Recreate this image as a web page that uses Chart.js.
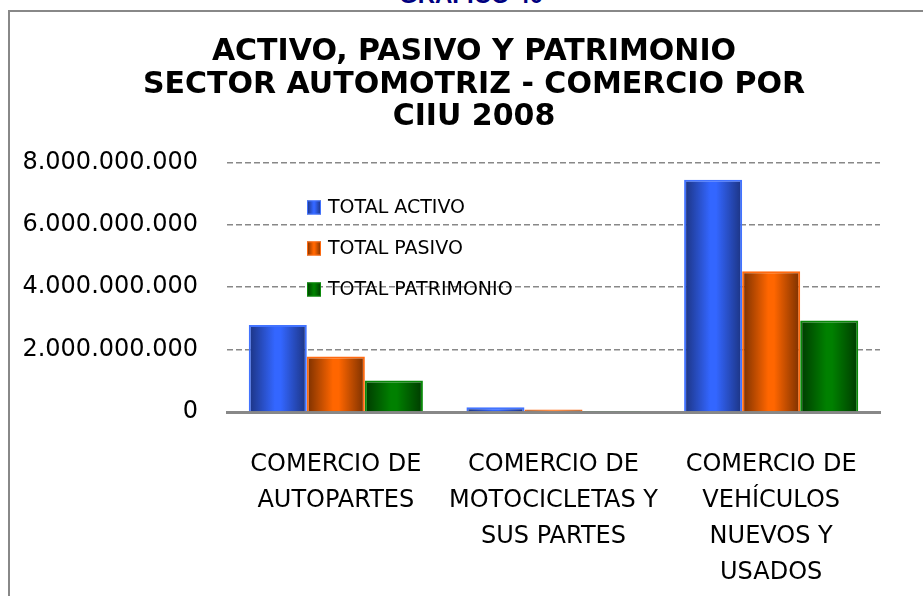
<!DOCTYPE html>
<html>
<head>
<meta charset="utf-8">
<script src="https://cdn.jsdelivr.net/npm/chart.js@4.4.1/dist/chart.umd.min.js"></script>
<style>
html, body { margin: 0; padding: 0; width: 923px; height: 596px; overflow: hidden; background: #fff; }
#sup { position: absolute; left: 0; top: -17px; width: 942px; text-align: center; font: bold 24px "Liberation Sans", Arial, sans-serif; line-height: 24px; color: #000080; }
#box { position: absolute; left: 8px; top: 10px; width: 1000px; height: 700px; border: 2px solid #888; background: #fff; }
#wrap { position: absolute; left: 9px; top: 11px; width: 930px; height: 585px; }
</style>
</head>
<body>
<div id="sup">GRAFICO 40</div>
<div id="box"></div>
<div id="wrap"><canvas id="chart" width="930" height="585"></canvas></div>
<script>
// data
const categories = [
    ["COMERCIO DE", "AUTOPARTES"],
    ["COMERCIO DE", "MOTOCICLETAS Y", "SUS PARTES"],
    ["COMERCIO DE", "VEHÍCULOS", "NUEVOS Y", "USADOS"]
];
const seriesNames = ["TOTAL ACTIVO", "TOTAL PASIVO", "TOTAL PATRIMONIO"];
const totalActivo = [2790000000, 150000000, 7450000000];
const totalPasivo = [1780000000, 80000000, 4510000000];
const totalPatrimonio = [1010000000, 30000000, 2930000000];
const yTicks = [0, 2000000000, 4000000000, 6000000000, 8000000000];
const titleLines = ["ACTIVO, PASIVO Y PATRIMONIO", "SECTOR AUTOMOTRIZ - COMERCIO POR", "CIIU 2008"];

const fmt = v => String(v).replace(/\B(?=(\d{3})+(?!\d))/g, ".");

// edge / middle colours for the cylinder-like shading
const shades = [
    { edge: "#1c3380", mid: "#3366ff", border: "#4273ff" },
    { edge: "#7a3000", mid: "#ff6600", border: "#ff6a10" },
    { edge: "#003a00", mid: "#008000", border: "#0a8a0a" }
];

function barGradient(ctx, l, r, s) {
    const g = ctx.createLinearGradient(l, 0, r, 0);
    g.addColorStop(0, s.edge);
    g.addColorStop(0.45, s.mid);
    g.addColorStop(0.55, s.mid);
    g.addColorStop(1, s.edge);
    return g;
}

// give each bar its own horizontal gradient
const shadePlugin = {
    id: "shade",
    beforeDatasetsDraw(chart) {
        const ctx = chart.ctx;
        chart.data.datasets.forEach((ds, i) => {
            chart.getDatasetMeta(i).data.forEach(bar => {
                const g = barGradient(ctx, bar.x - bar.width / 2, bar.x + bar.width / 2, shades[i]);
                bar.options = Object.assign({}, bar.options, { backgroundColor: g });
            });
        });
    }
};

// legend sits inside the plot, stacked
const legendPlugin = {
    id: "insideLegend",
    afterDatasetsDraw(chart) {
        const { ctx, chartArea } = chart;
        ctx.save();
        ctx.font = '19px "DejaVu Sans"';
        ctx.textBaseline = "middle";
        chart.data.datasets.forEach((ds, i) => {
            const x = chartArea.left + 80;
            const y = chartArea.top + 45 + i * 41;
            ctx.fillStyle = barGradient(ctx, x, x + 14, shades[i]);
            ctx.fillRect(x, y - 7, 14, 14);
            ctx.strokeStyle = shades[i].border;
            ctx.lineWidth = 1;
            ctx.strokeRect(x + 0.5, y - 6.5, 13, 13);
            ctx.fillStyle = "#000";
            ctx.fillText(ds.label, x + 21, y + 1);
        });
        ctx.restore();
    }
};

const values = [totalActivo, totalPasivo, totalPatrimonio];

new Chart(document.getElementById("chart"), {
    type: "bar",
    data: {
        labels: categories,
        datasets: values.map((v, i) => ({
            label: seriesNames[i],
            data: v,
            backgroundColor: shades[i].mid,
            borderColor: shades[i].border,
            borderWidth: 2,
            categoryPercentage: 0.8,
            barPercentage: 1
        }))
    },
    options: {
        responsive: false,
        animation: false,
        layout: { padding: 0 },
        plugins: {
            legend: { display: false },
            tooltip: { enabled: false },
            title: {
                display: true,
                text: titleLines,
                color: "#000",
                font: { family: "DejaVu Sans", weight: "bold", size: 30, lineHeight: 1.083 },
                padding: { top: 25, bottom: 29 }
            }
        },
        scales: {
            x: {
                grid: { display: false, drawTicks: false },
                border: { display: true, color: "#888", width: 3 },
                ticks: {
                    color: "#000",
                    padding: 35,
                    maxRotation: 0,
                    autoSkip: false,
                    font: { family: "DejaVu Sans", size: 24, lineHeight: 1.5 }
                },
                afterFit: s => { s.height = 184; }
            },
            y: {
                min: 0,
                max: 8000000000,
                afterBuildTicks: s => { s.ticks = yTicks.map(v => ({ value: v })); },
                grid: {
                    drawTicks: false,
                    color: c => c.tick && c.tick.value === 0 ? "rgba(0,0,0,0)" : "#888",
                    lineWidth: 1.5
                },
                border: { display: false, dash: [6, 3] },
                ticks: {
                    color: "#000",
                    padding: 29,
                    font: { family: "DejaVu Sans", size: 24 },
                    callback: v => fmt(v)
                },
                afterFit: s => { s.width = 218; }
            },
            // empty right-hand axis: keeps the plot's right margin while the title stays centred on the frame
            yRight: {
                position: "right",
                min: 0,
                max: 8000000000,
                grid: { display: false, drawTicks: false },
                border: { display: false },
                ticks: { display: false },
                afterFit: s => { s.width = 59; }
            }
        }
    },
    plugins: [shadePlugin, legendPlugin]
});
</script>
</body>
</html>
